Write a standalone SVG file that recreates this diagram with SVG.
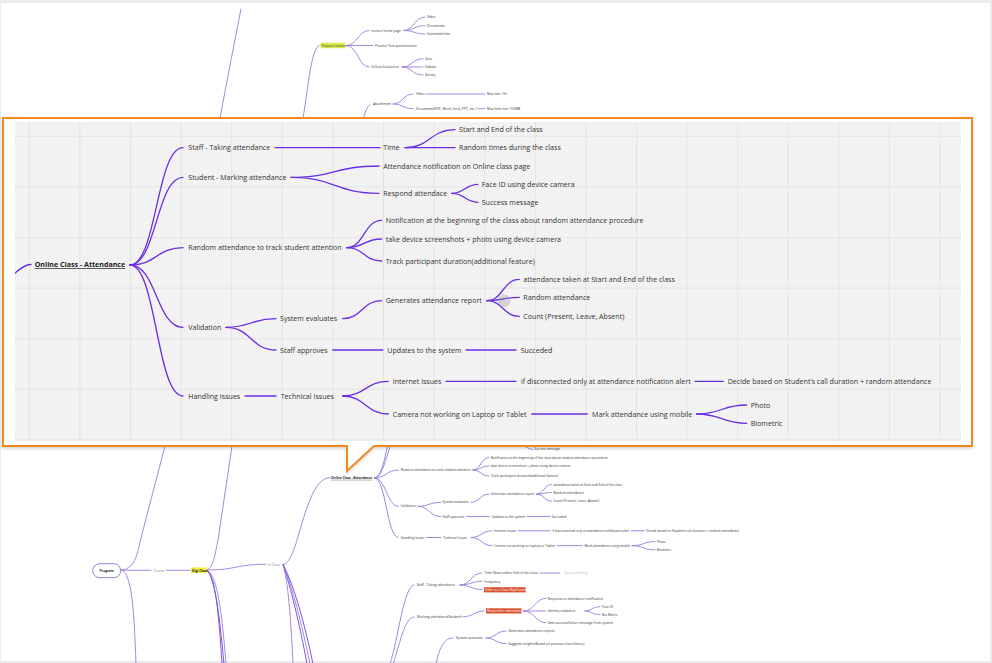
<svg xmlns="http://www.w3.org/2000/svg" xmlns:xlink="http://www.w3.org/1999/xlink" width="992" height="663" viewBox="0 0 992 663">
<defs>
<style>
.ln{fill:none;stroke:var(--lc,#6a2fe3);stroke-width:var(--lw,1.3px);stroke-linecap:round}
.bl{fill:none;stroke:#a58ae0;stroke-width:1;stroke-linecap:round}
.bd{fill:none;stroke:#7d55e0;stroke-width:1;stroke-linecap:round}
.t{font-family:"Open Sans","Liberation Sans",sans-serif;font-size:7.1px;fill:#333}
.root{font-weight:bold;text-decoration:underline;fill:#222}
.s{font-family:"Open Sans","Liberation Sans",sans-serif;font-size:3.3px;fill:#333}
.g{fill:#888}
.b{font-weight:bold;fill:#222}
.w{fill:#fff}
.grid{stroke:#e4e4e4;stroke-width:1}
</style>
<clipPath id="gridClip"><rect x="15" y="122" width="946" height="319"/></clipPath>
<filter id="sh" x="-5%" y="-5%" width="110%" height="115%"><feDropShadow dx="0" dy="1.5" stdDeviation="1.5" flood-color="#000" flood-opacity="0.18"/></filter>
</defs>

<rect x="0" y="0" width="992" height="663" fill="#ececec"/>
<rect x="1" y="3" width="989" height="658" fill="#ffffff"/>

<!-- background mind map: top -->
<g id="bg-top">
<g id="bg-top-connectors">
<path class="bl" d="M121,570 C134,570 137,556 141,538 L165,446 C185,320 205,190 241,9"/>
<path class="bl" d="M207,570 C213,568 215,555 218,540 L232,446 L303,118 C308,90 311,48 319,45.5"/>
<path class="bl" d="M340,300 C352,200 358,110 370,104.5"/>
<path class="bl" d="M346,45.5 C358,45.5 358,30.5 369,30.5"/>
<path class="bl" d="M346,45.5 H373"/>
<path class="bl" d="M346,45.5 C358,45.5 358,67 369,67"/>
<path class="bl" d="M404,30.5 C414,30.5 414,17 425,17"/>
<path class="bl" d="M404,30.5 C414,30.5 414,25.7 425,25.7"/>
<path class="bl" d="M404,30.5 C414,30.5 414,34 425,34"/>
<path class="bl" d="M402,67 C412,67 412,58.7 423,58.7"/>
<path class="bl" d="M402,67 H423"/>
<path class="bl" d="M402,67 C412,67 412,75 423,75"/>
<path class="bl" d="M393,104 C403,104 403,94 413,94"/>
<path class="bl" d="M393,104 C403,104 403,108.7 413,108.7"/>
<path class="bl" d="M426,94 H485"/>
<path class="bl" d="M478,108.7 H485"/>
</g>
<g id="bg-prepare"><rect x="320.5" y="42.8" width="24.5" height="5.4" fill="#d8ea4c"/><text class="s" x="321.5" y="46.6">Prepare Lecture</text></g>
<g id="bg-lhp"><text class="s" x="371" y="31.6">Lecture home page</text></g>
<g id="bg-practice"><text class="s" x="375" y="46.6">Practice Test questionnaire</text></g>
<g id="bg-inclass-eval"><text class="s" x="371" y="68.1">InClass Evaluation</text></g>
<g id="bg-video1"><text class="s" x="427" y="18.1">Video</text></g>
<g id="bg-docs1"><text class="s" x="427" y="26.8">Documents</text></g>
<g id="bg-est"><text class="s" x="427" y="35.1">Estimated time</text></g>
<g id="bg-quiz"><text class="s" x="425" y="59.8">Quiz</text></g>
<g id="bg-debate"><text class="s" x="425" y="67.8">Debate</text></g>
<g id="bg-survey"><text class="s" x="425" y="76.1">Survey</text></g>
<g id="bg-attach"><text class="s" x="373" y="105.4">Attachment</text></g>
<g id="bg-video2"><text class="s" x="416" y="95.1">Video</text></g>
<g id="bg-docs2"><text class="s" x="416" y="109.8">Documents(PDF, Word, Excel, PPT, etc..)</text></g>
<g id="bg-maxvid"><text class="s" x="487" y="95.1">Max size: 1hr</text></g>
<g id="bg-maxdoc"><text class="s" x="487" y="109.8">Max limit size: 150MB</text></g>
</g>

<!-- background mind map: bottom -->
<g id="bg-bottom">
<g id="bg-bottom-connectors">
<path class="bl" d="M121,570.3 H151"/>
<path class="bl" d="M166,570.3 H190"/>
<path class="bl" d="M121,570 C132,572 134,610 136,664"/>
<path class="bd" d="M207,570 C214,575 218,600 222,664"/>
<path class="bl" d="M207,570 C216,575 221,600 226,664"/>
<path class="bd" d="M207,570 C215,580 219,610 224,664"/>
<path class="bl" d="M207,570 C236,570 236,564.3 266,564.3"/>
<path class="bl" d="M283,564.5 C290,564 294,550 300,530 C310,495 318,477.7 330,477.7"/>
<path class="bl" d="M283,564.5 C288,580 291,620 293,664"/>
<path class="bd" d="M283,564.5 C290,585 300,625 307,664"/>
<path class="bl" d="M283,564.5 C292,585 302,625 310,664"/>
<path class="bd" d="M283,564.5 C294,585 305,625 313,664"/>
<path class="bl" d="M390,664 C398,640 404,585 414,585"/>
<path class="bl" d="M393,664 C401,640 405,617 414,617"/>
<path class="bl" d="M436,664 C440,645 445,638 453,638"/>
<path class="bl" d="M460,585 C471,585 471,573 482,573"/>
<path class="bl" d="M460,585 C471,585 471,581.3 482,581.3"/>
<path class="bl" d="M460,585 C471,585 471,589.5 482,589.5"/>
<path class="bl" d="M540,573 H560"/>
<path class="bl" d="M463,616.7 C474,616.7 474,611 484,611"/>
<path class="bl" d="M523,611 C535,611 535,598.3 546,598.3"/>
<path class="bl" d="M523,611 H546"/>
<path class="bl" d="M523,611 C535,611 535,622.7 546,622.7"/>
<path class="bl" d="M585,611 C592,611 592,606.7 600,606.7"/>
<path class="bl" d="M585,611 C592,611 592,614.7 600,614.7"/>
<path class="bl" d="M486,638 C496,638 496,631 506,631"/>
<path class="bl" d="M486,638 C496,638 496,643.7 506,643.7"/>
</g>
<g id="bg-program"><rect x="92.7" y="563.7" width="28" height="14" rx="7" fill="#fff" stroke="#8e6bd8" stroke-width="0.9"/><text class="s b" x="106.7" y="571.5" text-anchor="middle">Program</text></g>
<g id="bg-course"><text class="s g" x="153.5" y="571.5">Course</text></g>
<g id="bg-digi"><rect x="191" y="567.4" width="15.7" height="5.6" fill="#f5ee3a"/><text class="s b" x="192" y="571.5">Digi Class</text></g>
<g id="bg-inclass"><text class="s g" x="268" y="565.6">In Class</text></g>
<g id="bg-staff"><text class="s" x="416.7" y="586.2">Staff - Taking attendance</text></g>
<g id="bg-time"><text class="s" x="484.3" y="574.2">Time (Start and/or End of the class)</text></g>
<g id="bg-freq"><text class="s" x="484.3" y="582.5">Frequency</text></g>
<g id="bg-defer"><rect x="484" y="587.2" width="41.7" height="5.2" fill="#d9512c"/><text class="s w" x="485" y="590.9">Defer to a Class Rep/Leader</text></g>
<g id="bg-type"><text class="s" x="563.3" y="574.2" style="fill:#bbb">Type something</text></g>
<g id="bg-marking"><text class="s" x="417" y="617.9">Marking attendance(Student)</text></g>
<g id="bg-respond"><rect x="486" y="608.3" width="35.5" height="5.2" fill="#d9512c"/><text class="s w" x="487" y="612">Respond to attendance</text></g>
<g id="bg-response"><text class="s" x="547.7" y="599.5">Response to attendance notification</text></g>
<g id="bg-identity"><text class="s" x="547.7" y="612.2">Identity validation</text></g>
<g id="bg-gets"><text class="s" x="547.7" y="623.9">Gets success/failure message from system</text></g>
<g id="bg-faceid"><text class="s" x="602" y="607.7">Face ID</text></g>
<g id="bg-biometric"><text class="s" x="602" y="615.9">Bio Metric</text></g>
<g id="bg-syseval"><text class="s" x="456" y="639.2">System evaluates</text></g>
<g id="bg-genrep"><text class="s" x="508.3" y="632.2">Generates attendance reports</text></g>
<g id="bg-suggest"><text class="s" x="508.3" y="644.9">Suggests insights(Based on previous class history)</text></g>
<!-- small copy of the attendance map -->
<use xlink:href="#attendance-map" href="#attendance-map" transform="translate(315.2,357.3) scale(0.455)" style="--lc:#9c7fe0;--lw:2.1px"/>
</g>

<!-- callout -->
<g id="callout">
<path d="M3,118 H972 V446 H374 L347,471 V446 H3 Z" fill="#fff" stroke="#f5891f" stroke-width="2" stroke-linejoin="miter" filter="url(#sh)"/>
<rect x="15" y="122" width="946" height="319" fill="#f2f2f2"/>
<g id="grid" class="grid" clip-path="url(#gridClip)">
<path d="M29.3,122V441M79.9,122V441M130.5,122V441M181.1,122V441M231.7,122V441M282.3,122V441M332.9,122V441M383.5,122V441M434.1,122V441M484.7,122V441M535.3,122V441M585.9,122V441M636.5,122V441M687.1,122V441M737.7,122V441M788.3,122V441M838.9,122V441M889.5,122V441M940.1,122V441"/>
<path d="M15,136.3H961M15,186.9H961M15,237.5H961M15,288.1H961M15,338.7H961M15,389.3H961M15,439.9H961"/>
</g>
<g clip-path="url(#gridClip)">
<path class="ln" d="M0,287 C18,270 24,264.5 31,264.5"/>
<g id="attendance-map">
<g id="connectors">
<path class="ln" d="M130,265 C156.5,265 156.5,147.7 183,147.7"/>
<path class="ln" d="M130,265 C156.5,265 156.5,177.3 183,177.3"/>
<path class="ln" d="M130,265 C156.5,265 156.5,247.7 183,247.7"/>
<path class="ln" d="M130,265 C156.5,265 156.5,327.3 183,327.3"/>
<path class="ln" d="M130,265 C156.5,265 156.5,396 183,396"/>
<path class="ln" d="M275,147.7 H380"/>
<path class="ln" d="M405,147.7 C430,147.7 430,129.7 455,129.7"/>
<path class="ln" d="M405,147.7 H455"/>
<path class="ln" d="M291,177.3 C335,177.3 335,166 379,166"/>
<path class="ln" d="M291,177.3 C335,177.3 335,193.3 379,193.3"/>
<path class="ln" d="M451.7,193.3 C465,193.3 465,184.3 478,184.3"/>
<path class="ln" d="M451.7,193.3 C465,193.3 465,202.3 478,202.3"/>
<path class="ln" d="M346.7,247.7 C364,247.7 364,220.3 381.7,220.3"/>
<path class="ln" d="M346.7,247.7 C364,247.7 364,239 381.7,239"/>
<path class="ln" d="M346.7,247.7 C364,247.7 364,261 381.7,261"/>
<path class="ln" d="M226,327.3 C251,327.3 251,318.7 276,318.7"/>
<path class="ln" d="M226,327.3 C251,327.3 251,350 276,350"/>
<path class="ln" d="M342.7,318.7 C362,318.7 362,300.7 381.7,300.7"/>
<path class="ln" d="M486.7,300.7 C503,300.7 503,279.3 519.3,279.3"/>
<path class="ln" d="M486.7,300.7 C503,300.7 503,297.3 519.3,297.3"/>
<path class="ln" d="M486.7,300.7 C503,300.7 503,316.3 519.3,316.3"/>
<path class="ln" d="M332.7,350 H382.7"/>
<path class="ln" d="M466,350 H516"/>
<path class="ln" d="M245,396 H276"/>
<path class="ln" d="M342.7,396 C365.5,396 365.5,381.3 388.3,381.3"/>
<path class="ln" d="M342.7,396 C365.5,396 365.5,414 388.3,414"/>
<path class="ln" d="M446,381.3 H516"/>
<path class="ln" d="M695,381.3 H723.3"/>
<path class="ln" d="M531.7,414 H587.3"/>
<path class="ln" d="M696.7,414 C721.7,414 721.7,405 746.7,405"/>
<path class="ln" d="M696.7,414 C721.7,414 721.7,423.3 746.7,423.3"/>
</g>
<g id="n-root"><text class="t root" x="34.7" y="267.2">Online Class - Attendance</text></g>
<g id="n-staff"><text class="t" x="188.3" y="150.2">Staff - Taking attendance</text></g>
<g id="n-student"><text class="t" x="188.3" y="179.8">Student - Marking attendance</text></g>
<g id="n-random"><text class="t" x="188.3" y="250.2">Random attendance to track student attention</text></g>
<g id="n-validation"><text class="t" x="188.3" y="329.8">Validation</text></g>
<g id="n-handling"><text class="t" x="188.3" y="398.5">Handling Issues</text></g>
<g id="n-time"><text class="t" x="383.3" y="150.2">Time</text></g>
<g id="n-startend"><text class="t" x="459" y="132.2">Start and End of the class</text></g>
<g id="n-randomtimes"><text class="t" x="459" y="150.2">Random times during the class</text></g>
<g id="n-notif"><text class="t" x="383.3" y="168.5">Attendance notification on Online class page</text></g>
<g id="n-respond"><text class="t" x="383.3" y="195.8">Respond attendace</text></g>
<g id="n-faceid"><text class="t" x="481.7" y="186.8">Face ID using device camera</text></g>
<g id="n-success"><text class="t" x="481.7" y="204.8">Success message</text></g>
<g id="n-notifbegin"><text class="t" x="385.7" y="222.8">Notification at the beginning of the class about random attendance procedure</text></g>
<g id="n-screens"><text class="t" x="385.7" y="241.5">take device screenshots + photo using device camera</text></g>
<g id="n-track"><text class="t" x="385.7" y="263.5">Track participant duration(additional feature)</text></g>
<g id="n-syseval"><text class="t" x="280" y="321.2">System evaluates</text></g>
<g id="n-staffapp"><text class="t" x="280" y="352.5">Staff approves</text></g>
<g id="n-generates"><text class="t" x="385.7" y="303.2">Generates attendance report</text></g>
<g id="n-taken"><text class="t" x="523.3" y="281.8">attendance taken at Start and End of the class</text></g>
<g id="n-randatt"><text class="t" x="523.3" y="299.8">Random attendance</text></g>
<g id="n-count"><text class="t" x="523.3" y="318.8">Count (Present, Leave, Absent)</text></g>
<g id="n-updates"><text class="t" x="387.3" y="352.5">Updates to the system</text></g>
<g id="n-succeded"><text class="t" x="520.7" y="352.5">Succeded</text></g>
<g id="n-technical"><text class="t" x="280.7" y="398.5">Technical Issues</text></g>
<g id="n-internet"><text class="t" x="392.7" y="383.8">Internet issues</text></g>
<g id="n-camera"><text class="t" x="392.7" y="416.5">Camera not working on Laptop or Tablet</text></g>
<g id="n-ifdisc"><text class="t" x="521" y="383.8">if disconnected only at attendance notification alert</text></g>
<g id="n-decide"><text class="t" x="727.7" y="383.8">Decide based on Student’s call duration + random attendance</text></g>
<g id="n-mark"><text class="t" x="592" y="416.5">Mark attendance using mobile</text></g>
<g id="n-photo"><text class="t" x="750.7" y="407.5">Photo</text></g>
<g id="n-bio"><text class="t" x="750.7" y="425.8">Biometric</text></g>
</g>
<circle cx="504" cy="300.7" r="6.3" fill="#9a9a9a" fill-opacity="0.35"/>
</g>
</g>
</svg>
